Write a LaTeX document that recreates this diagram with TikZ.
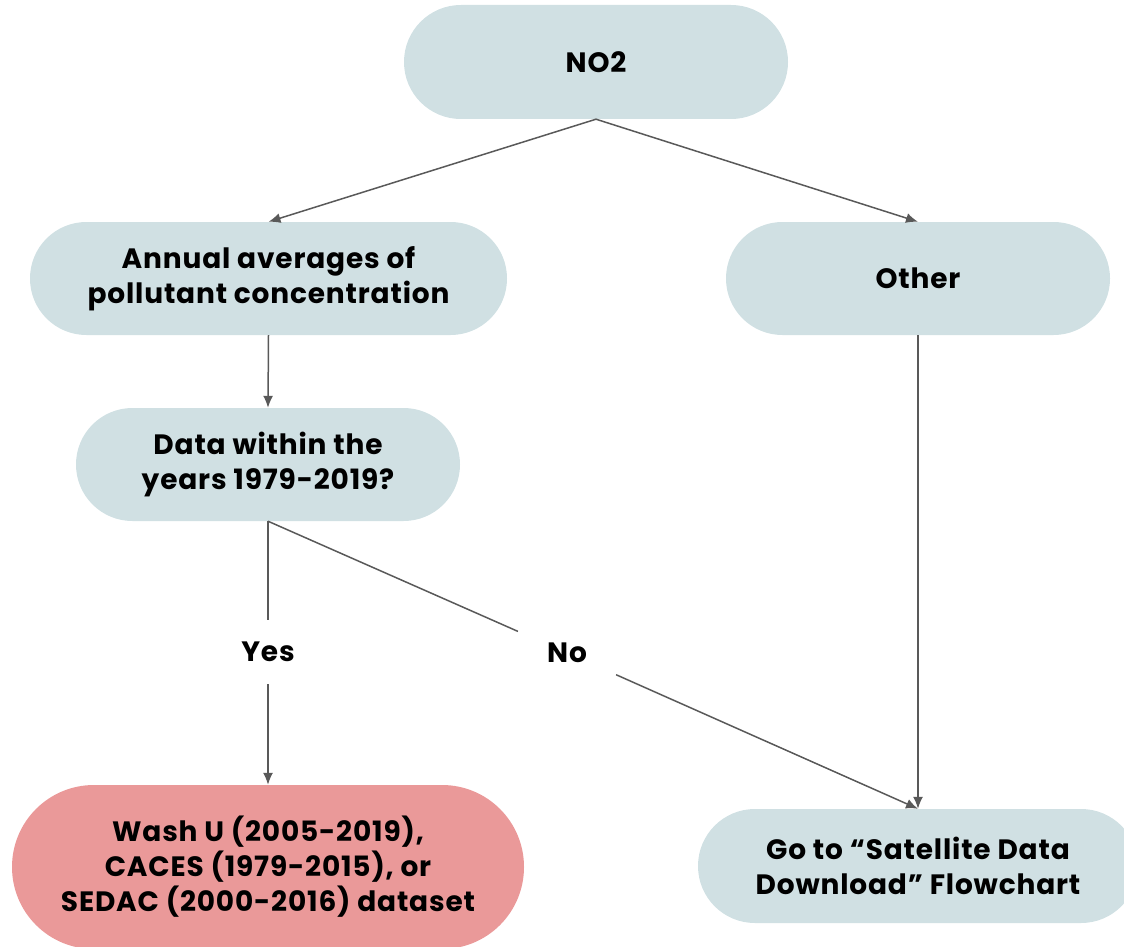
\documentclass[tikz,border=0pt]{standalone}
\usepackage{fontspec}
\setmainfont{Poppins}[LetterSpace=3]
\usetikzlibrary{arrows.meta}
\definecolor{boxblue}{HTML}{D0E0E3}
\definecolor{boxred}{HTML}{EA9999}
\definecolor{linegray}{HTML}{595959}
\begin{document}
\begin{tikzpicture}[x=1pt,y=-1pt,
  pill/.style={fill=boxblue, draw=none, align=center, inner sep=0pt,
    font=\bfseries\fontsize{28}{35}\selectfont},
  lbl/.style={font=\bfseries\fontsize{28}{35}\selectfont, inner xsep=29pt, inner ysep=22pt},
  conn/.style={draw=linegray, line width=1.5pt},
  arr/.style={conn, -{Latex[length=12pt,width=10pt]}}
]
\useasboundingbox (0,0) rectangle (1124,947);
\clip (0,0) rectangle (1124,947);
\node[pill, minimum width=384pt, minimum height=114pt, rounded corners=56.9pt] (no2) at (596,62) {NO2};
\node[pill, minimum width=477pt, minimum height=113pt, rounded corners=56.4pt] (annual) at (268.5,278.5) {Annual averages of\\pollutant concentration};
\node[pill, minimum width=384pt, minimum height=113pt, rounded corners=56.4pt] (other) at (918,278.5) {Other};
\node[pill, minimum width=384pt, minimum height=113pt, rounded corners=56.4pt] (data) at (268,464.5) {Data within the\\years 1979-2019?};
\node[pill, fill=boxred, minimum width=512pt, minimum height=164pt, rounded corners=81.9pt] (wash) at (268,867) {Wash U (2005-2019),\\CACES (1979-2015), or\\SEDAC (2000-2016) dataset};
\node[pill, minimum width=440pt, minimum height=114pt, rounded corners=56.9pt] (goto) at (918,866) {Go to “Satellite Data\\Download” Flowchart};
\node[lbl] (yes) at (268,652) {Yes};
\node[lbl] (no) at (567,653) {No};
\draw[arr] (no2.south) -- (annual.north);
\draw[arr] (no2.south) -- (other.north);
\draw[arr] (annual.south) -- (data.north);
\draw[conn] (data.south) -- (yes);
\draw[arr] (yes) -- (wash.north);
\draw[conn] (data.south) -- (no);
\draw[arr] (no) -- (goto.north);
\draw[arr] (other.south) -- (goto.north);
\end{tikzpicture}
\end{document}
